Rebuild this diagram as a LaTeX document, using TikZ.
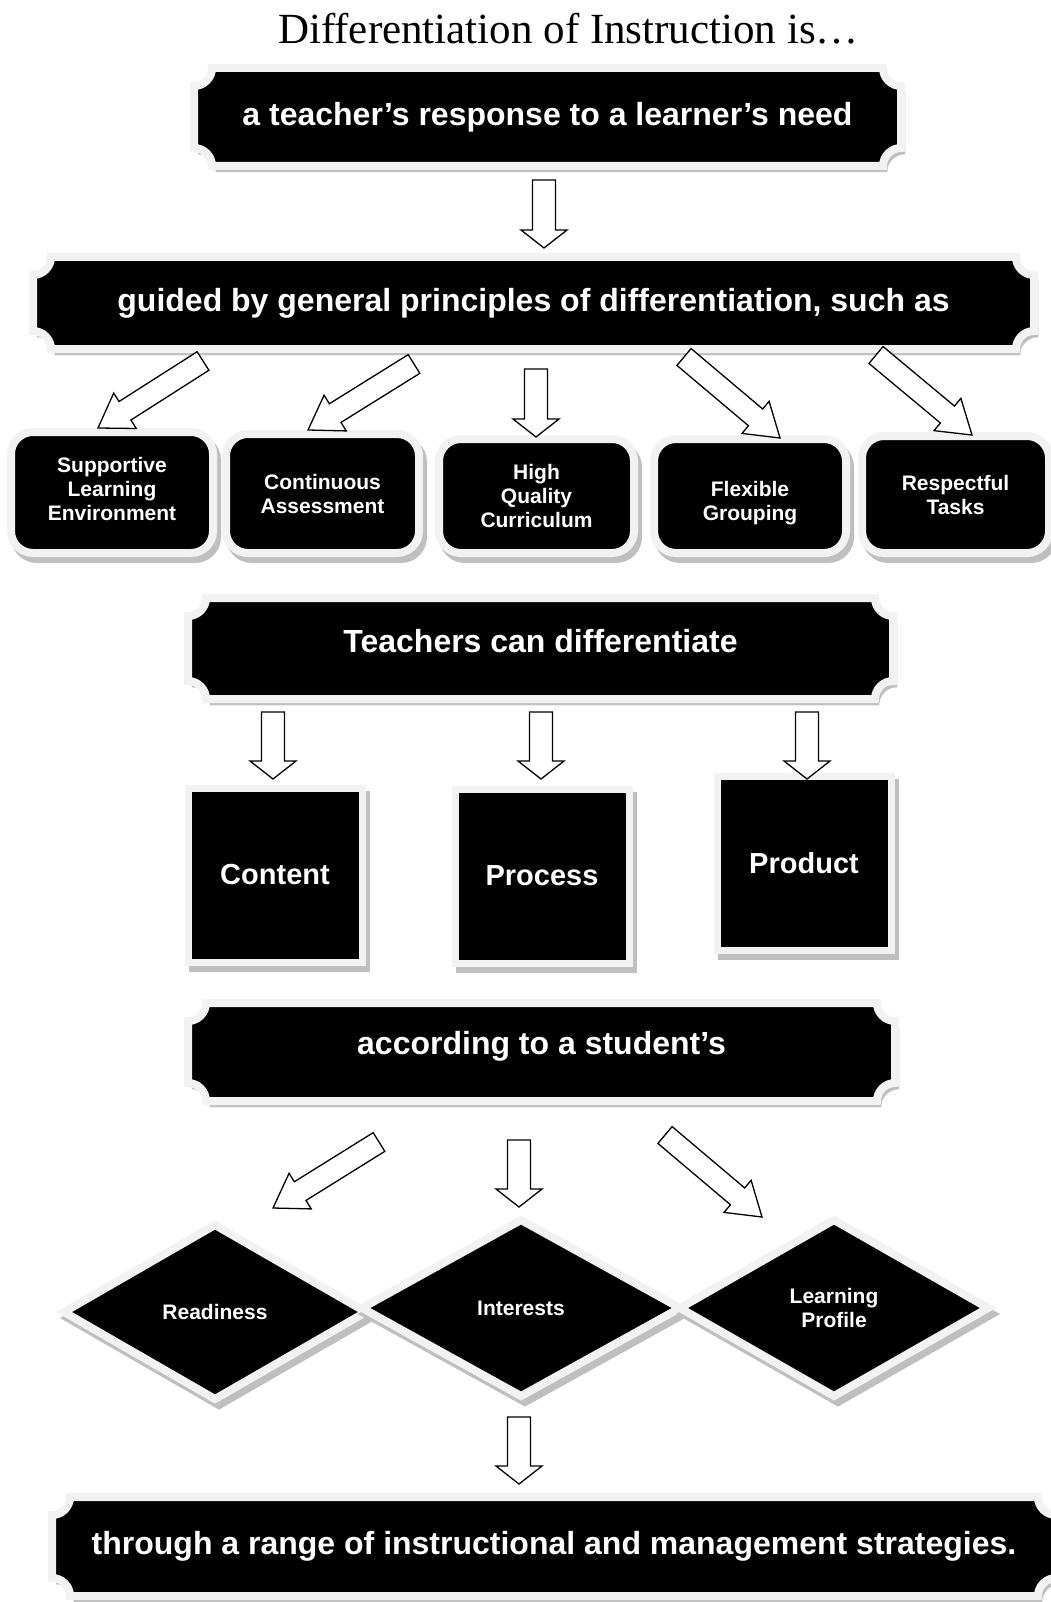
\documentclass[tikz,border=0pt]{standalone}
\usepackage{fontspec}
\setmainfont{Liberation Serif}
\setsansfont{Liberation Sans}
\usetikzlibrary{shapes.geometric,calc,backgrounds}

\definecolor{rimgrey}{gray}{0.95}
\definecolor{shadowgrey}{gray}{0.75}

% plaque outline (notched corners) round a named node
\newcommand{\plaque}[1]{%
  \path[plate] ([yshift=18pt]#1.south west)
    arc[start angle=90,end angle=0,radius=18pt] -- ([xshift=-18pt]#1.south east)
    arc[start angle=180,end angle=90,radius=18pt] -- ([yshift=-18pt]#1.north east)
    arc[start angle=270,end angle=180,radius=18pt] -- ([xshift=18pt]#1.north west)
    arc[start angle=0,end angle=-90,radius=18pt] -- cycle;}

\tikzset{
  castshadow/.style={preaction={draw=shadowgrey, fill=shadowgrey,
      transform canvas={shift={(4pt,-6pt)}}}},
  plate/.style={draw=rimgrey, fill=black, line width=8pt, castshadow},
  banner/.style={text=white, inner sep=0pt, outer sep=0pt,
      font=\sffamily\bfseries\fontsize{32}{38}\selectfont},
  card/.style={plate, rounded corners=22pt, text=white, align=center, outer sep=0pt,
      font=\sffamily\bfseries\fontsize{21}{24}\selectfont},
  tile/.style={plate, line width=7pt, text=white, outer sep=0pt, minimum size=174pt,
      font=\sffamily\bfseries\fontsize{29}{34}\selectfont},
  gem/.style={plate, diamond, text=white, align=center, outer sep=0pt, inner sep=0pt,
      font=\sffamily\bfseries\fontsize{21}{24}\selectfont},
  blk shaft/.store in=\blkshaft, blk head/.store in=\blkhead, blk tip/.store in=\blktip,
  blk shaft=11.5pt, blk head=23pt, blk tip=18pt,
  slanted/.style={blk shaft=11pt, blk head=21pt, blk tip=32pt},
  % hollow block arrow between two points
  hollow/.style={draw=black, fill=white, line width=1.3pt, line join=miter,
    to path={let \p1=($(\tikztotarget)-(\tikztostart)$), \n1={atan2(\y1,\x1)} in
      ($(\tikztostart)+({\n1+90}:\blkshaft)$)
      -- ($(\tikztotarget)+({\n1+180}:\blktip)+({\n1+90}:\blkshaft)$)
      -- ($(\tikztotarget)+({\n1+180}:\blktip)+({\n1+90}:\blkhead)$)
      -- (\tikztotarget)
      -- ($(\tikztotarget)+({\n1+180}:\blktip)+({\n1-90}:\blkhead)$)
      -- ($(\tikztotarget)+({\n1+180}:\blktip)+({\n1-90}:\blkshaft)$)
      -- ($(\tikztostart)+({\n1-90}:\blkshaft)$) -- cycle}}
}

\begin{document}
\begin{tikzpicture}[x=1pt, y=-1pt]
    \useasboundingbox (0,0) rectangle (1051,1602);

    \node (01) [font=\fontsize{43}{50}\selectfont, anchor=base] at (568.5,44) {Differentiation of Instruction is…};

    \node (11) [banner, minimum width=707pt, minimum height=98pt] at (547.5,117) {a teacher’s response to a learner’s need};
    \node (21) [banner, minimum width=1001pt, minimum height=92pt] at (533.5,303) {guided by general principles of differentiation, such as};

    \node (31) [card, minimum width=202pt, minimum height=121pt, text depth=8pt] at (112,492.5) {Supportive\\Learning\\Environment};
    \node (32) [card, minimum width=193pt, minimum height=119pt] at (322.5,493.5) {Continuous\\Assessment};
    \node (33) [card, minimum width=195pt, minimum height=114pt] at (536.5,496) {High\\Quality\\Curriculum};
    \node (34) [card, minimum width=192pt, minimum height=114pt, text height=53pt] at (750,496) {Flexible\\Grouping};
    \node (35) [card, minimum width=187pt, minimum height=117pt] at (955.5,494.5) {Respectful\\Tasks};

    \node (41) [banner, minimum width=705pt, minimum height=101pt, text depth=16pt] at (540.5,648.5) {Teachers can differentiate};

    \node (51) [tile] at (275,875) {Content};
    \node (52) [tile] at (542,876) {Process};
    \node (53) [tile] at (804,863.5) {Product};

    \node (61) [banner, minimum width=707pt, minimum height=98pt, text depth=19pt] at (541.5,1052) {according to a student’s};

    \node (71) [gem, minimum width=302pt, minimum height=174pt] at (215,1312) {Readiness};
    \node (72) [gem, minimum width=318pt, minimum height=176pt] at (521,1308) {Interests};
    \node (73) [gem, minimum width=308pt, minimum height=176pt] at (834,1308) {Learning\\Profile};

    \node (81) [banner, minimum width=1004pt, minimum height=99pt] at (554,1546.5) {through a range of instructional and management strategies.};

    \begin{scope}[on background layer]
        \fill[white] (0,0) rectangle (1051,1602);
        \foreach \b in {11,21,41,61,81} {\plaque{\b}}
    \end{scope}

    % arrow ends
    \coordinate (t1) at (544,180);   \coordinate (h1) at (544,248);
    \coordinate (t2) at (203,361);   \coordinate (h2) at (98,428);
    \coordinate (t3) at (414,364);   \coordinate (h3) at (308,430);
    \coordinate (t4) at (536,369);   \coordinate (h4) at (536,437);
    \coordinate (t5) at (684,357);   \coordinate (h5) at (780,438);
    \coordinate (t6) at (876,355);   \coordinate (h6) at (972,435);
    \coordinate (t7) at (273,712);   \coordinate (h7) at (273,779);
    \coordinate (t8) at (541,712);   \coordinate (h8) at (541,779);
    \coordinate (t9) at (807,712);   \coordinate (h9) at (807,779);
    \coordinate (t10) at (379,1142); \coordinate (h10) at (273,1208);
    \coordinate (t11) at (519,1140); \coordinate (h11) at (519,1207);
    \coordinate (t12) at (665,1135); \coordinate (h12) at (762,1217);
    \coordinate (t13) at (519,1417); \coordinate (h13) at (519,1484);

    \foreach \i in {1,4,7,8,9,11,13}
        \draw [hollow] (t\i) to (h\i);
    \foreach \i in {2,3,5,6,10,12}
        \draw [hollow, slanted] (t\i) to (h\i);
\end{tikzpicture}
\end{document}
